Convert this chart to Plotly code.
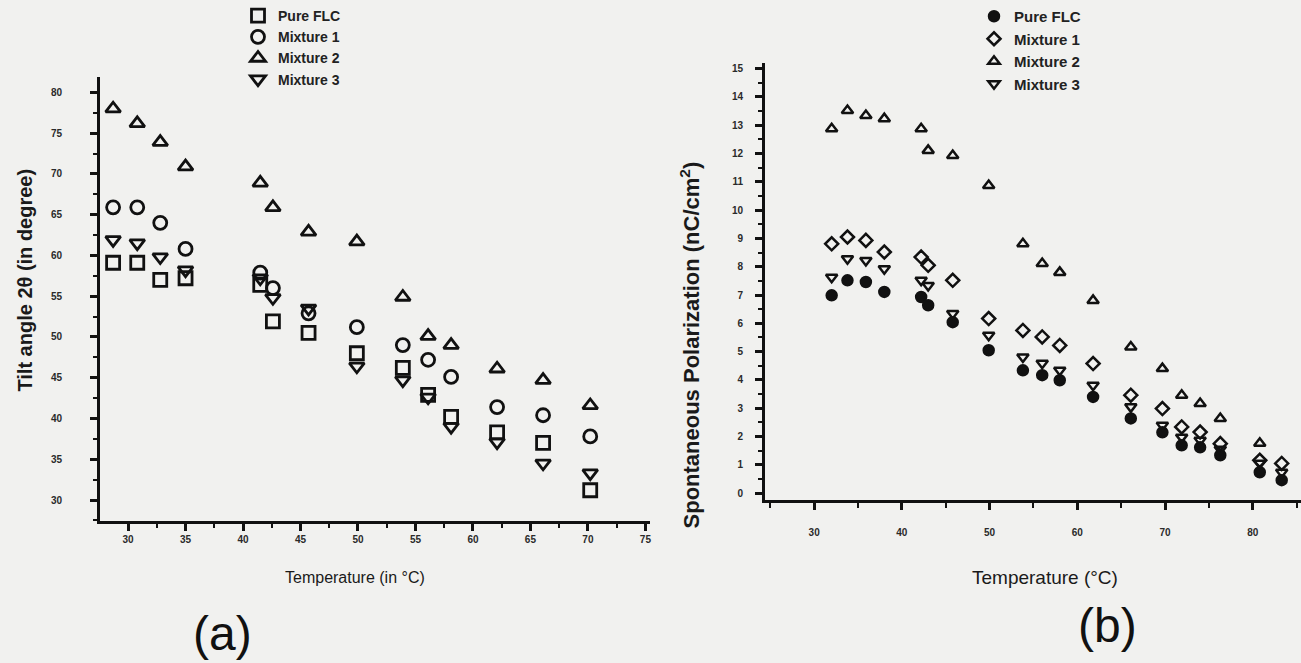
import plotly.graph_objects as go

W, H = 1301, 663

# ---------------- (a) Tilt angle ----------------
temp_a = [28.7, 30.8, 32.8, 35.0, 41.5, 42.6, 45.7, 49.9, 53.9, 56.1, 58.1, 62.1, 66.1, 70.2]
tilt_pure = [59.1, 59.1, 57.0, 57.2, 56.4, 51.9, 50.5, 48.0, 46.2, 42.9, 40.2, 38.3, 37.0, 31.2]
tilt_mix1 = [65.9, 65.9, 64.0, 60.8, 57.9, 56.0, 52.9, 51.2, 49.0, 47.2, 45.1, 41.4, 40.4, 37.8]
tilt_mix2 = [78.0, 76.2, 73.9, 70.9, 68.9, 65.9, 62.9, 61.7, 54.9, 50.1, 49.0, 46.1, 44.7, 41.6]
tilt_mix3 = [61.9, 61.5, 59.8, 58.2, 57.2, 54.8, 53.5, 46.4, 44.7, 42.6, 39.0, 37.1, 34.5, 33.3]

# ---------------- (b) Spontaneous polarization ----------------
temp_b = [32.0, 33.8, 35.9, 38.0, 42.2, 43.0, 45.8, 49.9, 53.8, 56.0, 58.0, 61.8, 66.1, 69.7, 71.9, 74.0, 76.3, 80.8, 83.3]
ps_pure = [6.99, 7.52, 7.46, 7.11, 6.93, 6.64, 6.04, 5.05, 4.34, 4.17, 3.99, 3.40, 2.64, 2.15, 1.69, 1.62, 1.34, 0.74, 0.46]
ps_mix1 = [8.81, 9.05, 8.93, 8.52, 8.34, 8.05, 7.52, 6.17, 5.75, 5.52, 5.22, 4.58, 3.46, 2.99, 2.34, 2.16, 1.75, 1.16, 1.05]
ps_mix2 = [12.87, 13.52, 13.34, 13.23, 12.87, 12.11, 11.93, 10.87, 8.81, 8.11, 7.80, 6.81, 5.16, 4.40, 3.46, 3.17, 2.64, 1.76]
ps_mix3 = [7.63, 8.28, 8.22, 7.93, 7.52, 7.34, 6.35, 5.58, 4.81, 4.59, 4.34, 3.81, 3.05, 2.40, 1.98, 1.87, 1.55, 1.06, 0.74]

names = ["Pure FLC", "Mixture 1", "Mixture 2", "Mixture 3"]


def px(x):
    return x / W


def py(y):
    return 1 - y / H


INK = "#111111"
fig = go.Figure()

sym_a = ["square-open", "circle-open", "triangle-up-open", "triangle-down-open"]
for name, vals, s in zip(names, [tilt_pure, tilt_mix1, tilt_mix2, tilt_mix3], sym_a):
    fig.add_trace(go.Scatter(
        x=temp_a[:len(vals)], y=vals, mode="markers", name=name,
        marker=dict(symbol=s, size=13, color=INK, line=dict(width=2.8, color=INK)),
        xaxis="x", yaxis="y", legend="legend"))

sym_b = ["circle", "diamond-open", "triangle-up-open", "triangle-down-open"]
for name, vals, s in zip(names, [ps_pure, ps_mix1, ps_mix2, ps_mix3], sym_b):
    fig.add_trace(go.Scatter(
        x=temp_b[:len(vals)], y=vals, mode="markers", name=name,
        marker=dict(symbol=s, size=10, color=INK, line=dict(width=2.5, color=INK)),
        xaxis="x2", yaxis="y2", legend="legend2"))

tickfont = dict(family="Liberation Sans", size=10, color="#2a2a2a", weight="bold")
common = dict(showgrid=False, zeroline=False, showline=True, linecolor=INK, linewidth=3,
              ticks="outside", tickcolor=INK, tickwidth=2.5, ticklen=7, tickfont=tickfont)

fig.update_layout(
    width=W, height=H,
    margin=dict(l=0, r=0, t=0, b=0),
    paper_bgcolor="#f1f1ef", plot_bgcolor="rgba(0,0,0,0)",
    hovermode=False,
    xaxis=dict(domain=[px(100), px(650)], range=[27.56, 75.4], anchor="y",
               tickmode="linear", tick0=30, dtick=5,
               minor=dict(dtick=2.5, ticks="outside", ticklen=4, tickwidth=2, tickcolor=INK),
               **common),
    yaxis=dict(domain=[py(521), py(76)], range=[27.4, 81.9], anchor="x",
               tickmode="linear", tick0=30, dtick=5, ticklabelstandoff=26,
               minor=dict(dtick=2.5, ticks="outside", ticklen=4, tickwidth=2, tickcolor=INK),
               **common),
    xaxis2=dict(domain=[px(765), 1.0], range=[24.4, 85.5], anchor="y2",
                tickmode="linear", tick0=30, dtick=10, ticklabelstandoff=14,
                minor=dict(dtick=5, ticks="outside", ticklen=5, tickwidth=2, tickcolor=INK),
                **common),
    yaxis2=dict(domain=[py(500), py(62)], range=[-0.25, 15.2], anchor="x2",
                tickmode="linear", tick0=0, dtick=1, ticklabelstandoff=10,
                minor=dict(dtick=0.5, ticks="outside", ticklen=4, tickwidth=2, tickcolor=INK),
                **common),
    legend=dict(x=px(238), y=py(0), xanchor="left", yanchor="top",
                bgcolor="rgba(0,0,0,0)",
                font=dict(family="Liberation Sans", size=14, color="#222", weight="bold"),
                itemwidth=30, tracegroupgap=0),
    legend2=dict(x=px(974), y=py(-1), xanchor="left", yanchor="top",
                 bgcolor="rgba(0,0,0,0)",
                 font=dict(family="Liberation Sans", size=15, color="#222", weight="bold"),
                 itemwidth=30, tracegroupgap=0),
    showlegend=True,
)

fig.add_annotation(x=px(25), y=py(280), xref="paper", yref="paper", xanchor="center", yanchor="middle",
                   text="<b>Tilt angle 2θ (in degree)</b>", textangle=-90, showarrow=False,
                   font=dict(family="Liberation Sans", size=20, color="#1a1a1a"))
fig.add_annotation(x=px(355), y=py(577), xref="paper", yref="paper", xanchor="center", yanchor="middle",
                   text="Temperature (in °C)", showarrow=False,
                   font=dict(family="Liberation Sans", size=16, color="#1a1a1a"))
fig.add_annotation(x=px(690), y=py(345), xref="paper", yref="paper", xanchor="center", yanchor="middle",
                   text="<b>Spontaneous Polarization (nC/cm<sup>2</sup>)</b>", textangle=-90, showarrow=False,
                   font=dict(family="Liberation Sans", size=22, color="#1a1a1a"))
fig.add_annotation(x=px(1045), y=py(577), xref="paper", yref="paper", xanchor="center", yanchor="middle",
                   text="Temperature (°C)", showarrow=False,
                   font=dict(family="Liberation Sans", size=19, color="#1a1a1a"))
fig.add_annotation(x=px(222), y=py(633), xref="paper", yref="paper", xanchor="center", yanchor="middle",
                   text="(a)", showarrow=False,
                   font=dict(family="Liberation Sans", size=48, color="#111"))
fig.add_annotation(x=px(1107), y=py(625), xref="paper", yref="paper", xanchor="center", yanchor="middle",
                   text="(b)", showarrow=False,
                   font=dict(family="Liberation Sans", size=48, color="#111"))

fig.write_html("out.html", config={"displayModeBar": False},
               post_script="document.body.style.margin='0px';")
